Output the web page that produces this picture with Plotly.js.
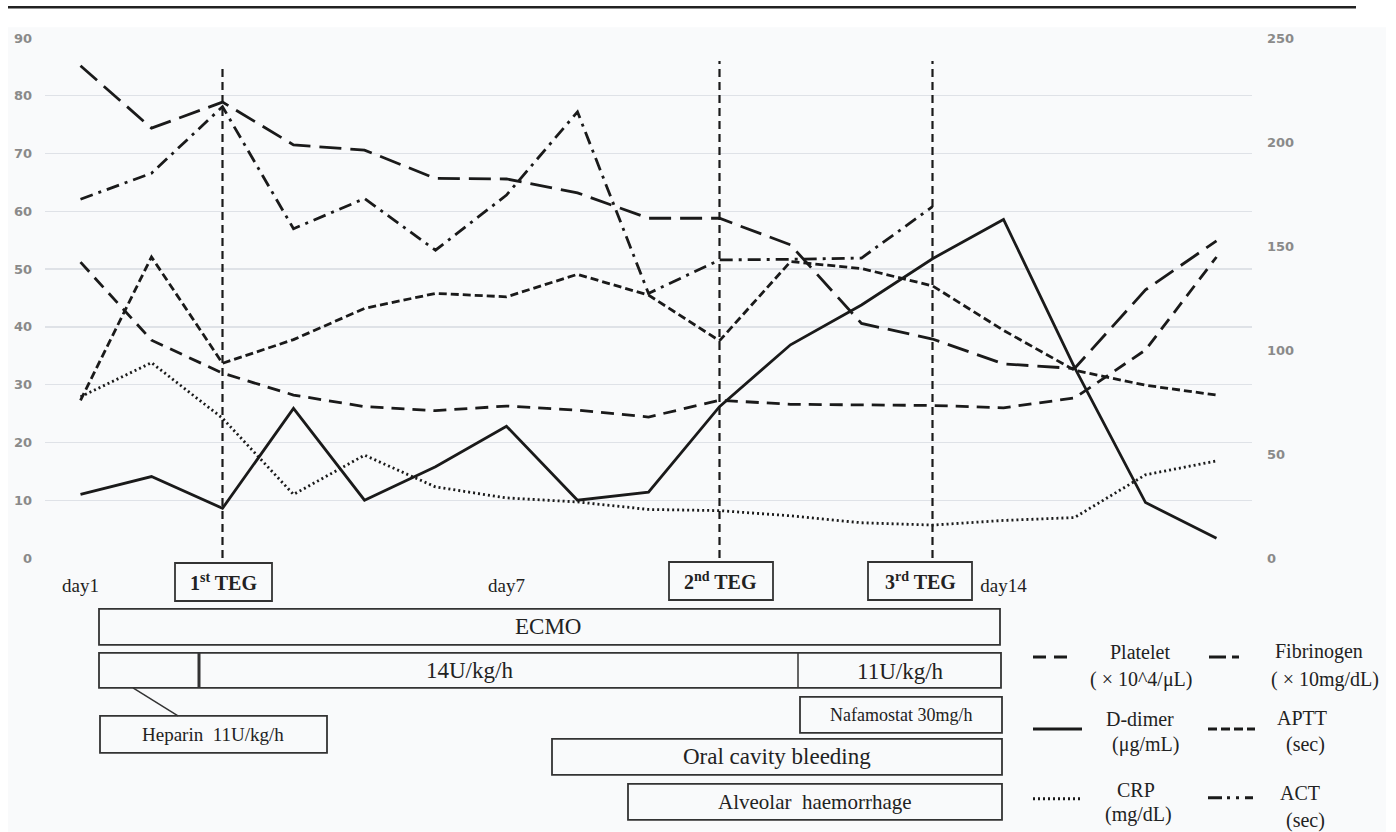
<!DOCTYPE html>
<html>
<head>
<meta charset="utf-8">
<script src="https://cdn.plot.ly/plotly-3.0.1.min.js"></script>
<style>html,body{margin:0;padding:0;background:#fff;}#chart{width:1396px;height:832px;}</style>
</head>
<body>
<div id="chart"></div>
<script>
// ---- data ----
const days = ['day1','day2','day3','day4','day5','day6','day7','day8','day9','day10','day11','day12','day13','day14','day15','day16','day17'];
const xTickVals = ['day1','day7','day14'];
const yLeftTicks = [0,10,20,30,40,50,60,70,80,90];
const yRightTicks = [0,50,100,150,200,250];
const platelet   = [51.2, 37.7, 32.0, 28.2, 26.2, 25.5, 26.3, 25.6, 24.4, 27.3, 26.6, 26.5, 26.4, 26.0, 27.7, 36.0, 52.1];
const fibrinogen = [85.2, 74.4, 78.9, 71.5, 70.6, 65.7, 65.6, 63.2, 58.8, 58.8, 54.2, 40.6, 37.9, 33.6, 32.8, 46.4, 54.9];
const aptt       = [27.3, 52.1, 33.7, 37.8, 43.2, 45.8, 45.2, 49.1, 45.5, 37.6, 51.3, 50.1, 47.1, 39.4, 32.5, 29.9, 28.2];
const ddimer     = [11.0, 14.1, 8.6, 25.9, 10.0, 15.8, 22.8, 10.0, 11.4, 26.2, 36.9, 43.8, 51.8, 58.6, 33.0, 9.6, 3.4];
const crp        = [27.9, 33.8, 24.2, 11.0, 17.8, 12.3, 10.4, 9.7, 8.4, 8.2, 7.3, 6.1, 5.7, 6.5, 7.0, 14.4, 16.8];
const act        = [172.5, 185, 217, 158.3, 172.8, 148, 174.5, 214.5, 127.2, 143.3, 143.6, 144.2, 168.9];
const tegDays    = ['day3','day10','day13'];
const tegTop     = [84.9, 86, 86];

// ---- layout helpers (pixel -> paper) ----
const PL = 45, PR = 1252, PT = 37.7, PB = 558;
const X = p => (p - PL) / (PR - PL);
const Y = p => (PB - p) / (PB - PT);
const INK = '#1a1a1a';
const BOX = '#333';
const serif = 'Liberation Serif, Times New Roman, serif';

const DASH = {
  platelet: '13px,8px',
  fibrinogen: '22px,9px',
  aptt: '8px,4px',
  ddimer: 'solid',
  crp: '2px,3px',
  act: '13px,6px,3px,6px'
};

function tr(y, dash, axis) {
  return {x: days.slice(0, y.length), y: y, type: 'scatter', mode: 'lines', yaxis: axis || 'y',
          line: {color: INK, width: 2.8, dash: dash}, hoverinfo: 'skip', showlegend: false};
}
const data = [
  tr(fibrinogen, DASH.fibrinogen),
  tr(platelet, DASH.platelet),
  tr(aptt, DASH.aptt),
  tr(ddimer, DASH.ddimer),
  tr(crp, DASH.crp),
  tr(act, DASH.act, 'y2')
];

const shapes = [];
const annotations = [];
// background and top rule
shapes.push({type:'rect', xref:'paper', yref:'paper', x0:X(8), x1:X(1386), y0:Y(27), y1:Y(832), fillcolor:'#f9fafb', line:{width:0}, layer:'below'});
shapes.push({type:'line', xref:'paper', yref:'paper', x0:X(8), x1:X(1356), y0:Y(7), y1:Y(7), line:{color:'#222', width:2.5}});
// TEG vertical lines
tegDays.forEach((d, i) => {
  const idx = days.indexOf(d);
  shapes.push({type:'line', xref:'x', yref:'y', x0:idx, x1:idx, y0:0, y1:tegTop[i], line:{color:INK, width:2.2, dash:'8px,5px'}});
});
function box(x0, y0, x1, y1, w) {
  shapes.push({type:'rect', xref:'paper', yref:'paper', x0:X(x0), x1:X(x1), y0:Y(y0), y1:Y(y1), line:{color:BOX, width:w || 1.8}, fillcolor:'rgba(0,0,0,0)'});
}
function line(x0, y0, x1, y1, w) {
  shapes.push({type:'line', xref:'paper', yref:'paper', x0:X(x0), x1:X(x1), y0:Y(y0), y1:Y(y1), line:{color:BOX, width:w || 1.8}});
}
function text(t, x, y, size, opts) {
  annotations.push(Object.assign({text:t, xref:'paper', yref:'paper', x:X(x), y:Y(y), showarrow:false,
    xanchor:'center', yanchor:'middle', font:{family:serif, size:size, color:'#222'}}, opts || {}));
}
// TEG boxes
box(175, 563, 272, 601); text('1<sup>st</sup> TEG', 223.5, 582, 20, {font:{family:serif, size:20, color:'#222', weight:'bold'}});
box(669, 562, 773, 600); text('2<sup>nd</sup> TEG', 721, 581, 20, {font:{family:serif, size:20, color:'#222', weight:'bold'}});
box(868, 562, 972, 600); text('3<sup>rd</sup> TEG', 920, 581, 20, {font:{family:serif, size:20, color:'#222', weight:'bold'}});
// treatment boxes
box(99, 609, 1000, 645); text('ECMO', 548, 627, 23);
box(99, 653, 1001, 688); line(199, 653, 199, 688, 3); line(798, 653, 798, 688, 1.5);
text('14U/kg/h', 470, 671, 23); text('11U/kg/h', 900, 672, 23);
box(100, 716, 327, 753); text('Heparin&nbsp;&nbsp;11U/kg/h', 213, 735, 19); line(133, 688, 178, 716, 1.5);
box(800, 697, 1002, 733); text('Nafamostat 30mg/h', 901, 715, 18);
box(552, 739, 1002, 775); text('Oral cavity bleeding', 777, 757, 23);
box(628, 784, 1002, 820); text('Alveolar&nbsp;&nbsp;haemorrhage', 815, 802, 21);
// legend
function leg(x0, x1, y, dash) {
  shapes.push({type:'line', xref:'paper', yref:'paper', x0:X(x0), x1:X(x1), y0:Y(y), y1:Y(y), line:{color:INK, width:3, dash:dash}});
}
leg(1033, 1074, 657, DASH.platelet);
text('Platelet', 1140, 652, 20); text('( × 10^4/μL)', 1141, 680, 20);
leg(1209, 1244, 657, '17px,6px,7px,20px');
text('Fibrinogen', 1319, 652, 20); text('( × 10mg/dL)', 1325, 680, 20);
leg(1033, 1082, 729, 'solid');
text('D-dimer', 1140, 719, 20); text('(μg/mL)', 1145, 745, 20);
leg(1208, 1255, 729, '9px,4px');
text('APTT', 1302, 718, 20); text('(sec)', 1305, 745, 20);
leg(1033, 1080, 799, '2px,3px');
text('CRP', 1136, 790, 20); text('(mg/dL)', 1138, 815, 20);
leg(1208, 1253, 798, '14px,5px,3px,6px,3px,6px');
text('ACT', 1300, 793, 20); text('(sec)', 1305, 821, 20);

const tickFont = {family:'DejaVu Sans, sans-serif', size:13, color:'#8a8a8a', weight:'bold'};
const layout = {
  width: 1396, height: 832,
  margin: {l: PL, r: 1396 - PR, t: PT, b: 832 - PB, pad: 0},
  paper_bgcolor: '#ffffff', plot_bgcolor: 'rgba(0,0,0,0)',
  showlegend: false,
  xaxis: {type:'category', categoryorder:'array', categoryarray: days, range:[-0.5, days.length - 0.5],
          tickmode:'array', tickvals: xTickVals, ticktext: xTickVals, showgrid:false, zeroline:false,
          showline:false, ticks:'', ticklabelstandoff: 14, tickfont:{family:serif, size:19, color:'#222'}},
  yaxis: {range:[0, 90], tickmode:'array', tickvals: yLeftTicks, showgrid:true, gridcolor:'#dfe2e7', gridwidth:1.4,
          zeroline:false, showline:false, ticks:'', ticklabelstandoff: 12, tickfont: tickFont},
  yaxis2: {range:[0, 250], overlaying:'y', side:'right', tickmode:'array', tickvals: yRightTicks, showgrid:false,
           zeroline:false, showline:false, ticks:'', ticklabelstandoff: 14, tickfont: tickFont},
  shapes: shapes,
  annotations: annotations
};
Plotly.newPlot('chart', data, layout, {displayModeBar:false, staticPlot:true});
</script>
</body>
</html>
